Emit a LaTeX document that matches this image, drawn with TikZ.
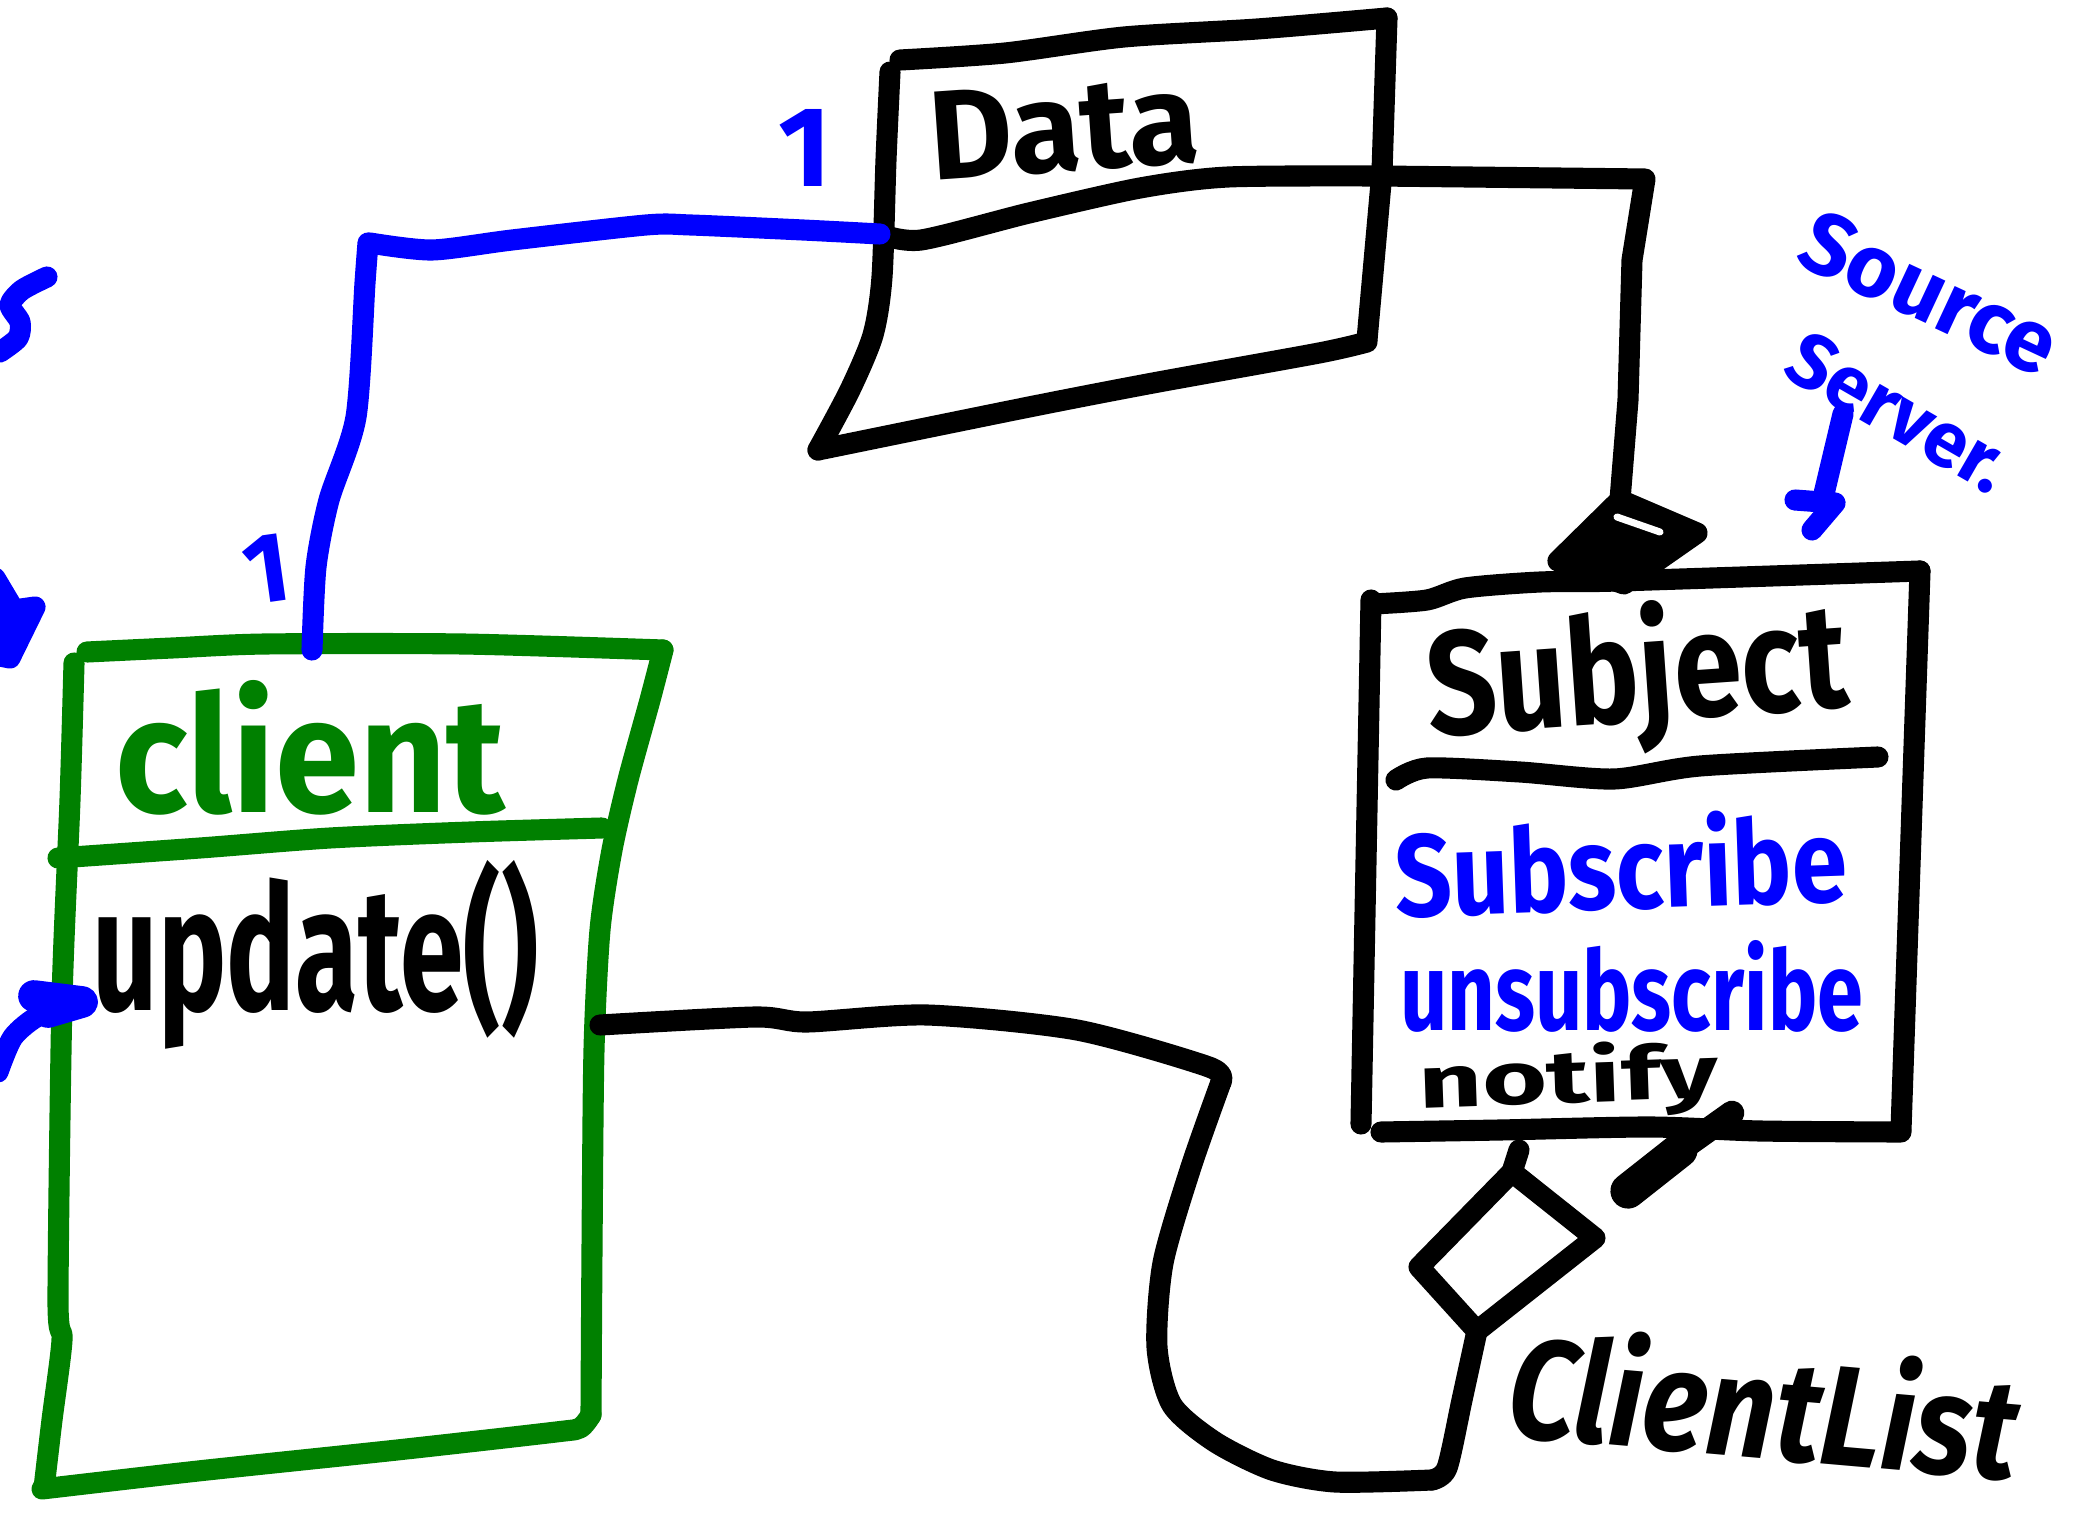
\documentclass[tikz,border=0pt]{standalone}
\usepackage{fontspec}
\setmainfont{Fira Sans}
\definecolor{umlgreen}{RGB}{0,128,0}
\definecolor{umlblue}{RGB}{0,0,255}
\begin{document}
\begin{tikzpicture}[x=0.01cm, y=-0.01cm,
  stroke/.style={line width=6pt, line cap=round, line join=round},
  pen/.style={stroke, draw=black},
  gpen/.style={stroke, draw=umlgreen},
  bpen/.style={stroke, draw=umlblue},
  hand/.style={inner sep=0pt, outer sep=0pt, anchor=base west, font=\bfseries},
  mult/.style={inner sep=0pt, outer sep=0pt, anchor=base, text=umlblue, font=\bfseries},
  handline/.style={smooth, tension=0.45}]

% canvas
\fill[white] (0,0) rectangle (2074,1518);
\useasboundingbox (0,0) rectangle (2074,1518);
\clip (0,0) rectangle (2074,1518);

% ---------- anchor points used by the connectors ----------
\coordinate (dataDivL) at (880,234);
\coordinate (dataDivR) at (1380,176);
\coordinate (clientTop) at (312,650);
\coordinate (clientR)  at (600,1025);
\coordinate (compTop)  at (1620,500);
\coordinate (aggTop)   at (1512,1172);
\coordinate (aggBot)   at (1477,1331);
\coordinate (subjBot)  at (1519,1150);

% ---------- Data class ----------
\draw[pen] plot[handline] coordinates {(900,60) (1005,53) (1124,37) (1257,29) (1387,18)};
\draw[pen] (1387,18) -- (1382,172) -- (1367,340);
\draw[pen] plot[handline] coordinates {(1367,342) (1319,353) (1153,383) (1029,407) (818,450)};
\draw[pen] plot[handline] coordinates {(890,72) (886,160) (882,277) (873,335) (850,390) (818,450)};
\draw[pen] plot[handline] coordinates {(dataDivL) (921,240) (1029,213) (1140,188) (1228,177) (dataDivR)};
\node[hand, rotate=4] (datatxt) at (932,180) {\resizebox{2.7cm}{0.88cm}{Data}};

% ---------- Subject class ----------
\draw[pen] plot[handline] coordinates {(1373,604) (1427,600) (1465,588) (1540,582) (1618,581) (1920,571)};
\draw[pen] (1920,571) -- (1901,1130);
\draw[pen] plot[handline] coordinates {(1381,1132) (1500,1130) (1650,1127) (1760,1131) (1901,1132)};
\draw[pen] (1371,600) -- (1361,1124);
\draw[pen] plot[handline] coordinates {(1396,780) (1427,768) (1520,772) (1614,779) (1700,766) (1878,757)};
\node[hand, rotate=4] (subjtxt) at (1430,736) {\resizebox{4.21cm}{1.2cm}{Subject}};
\node[hand, rotate=2, text=umlblue] (subtxt) at (1396,917) {\resizebox{4.52cm}{0.95cm}{Subscribe}};
\node[hand, text=umlblue] (unsubtxt) at (1400,1030) {\resizebox{4.63cm}{0.9cm}{unsubscribe}};
\node[hand, rotate=2] (notifytxt) at (1419,1108) {\resizebox{3.0cm}{0.6cm}{notify}};
\draw[pen, line width=7pt] (1732,1113) -- (1680,1150);
\draw[pen, line width=10pt] (1680,1150) -- (1628,1191);

% ---------- Client class ----------
\draw[gpen] plot[handline] coordinates {(87,652) (172,648) (265,644) (463,644) (663,650)};
\draw[gpen] plot[handline] coordinates {(663,650) (650,700) (628,780) (612,850) (600,930) (594,1050) (592,1250) (591,1415)};
\draw[gpen] plot[handline] coordinates {(591,1415) (580,1428) (556,1432) (397,1450) (198,1471) (42,1489)};
\draw[gpen] plot[handline] coordinates {(74,663) (70,800) (62,1000) (58,1300) (62,1340) (52,1420) (44,1488)};
\draw[gpen] plot[handline] coordinates {(58,858) (200,848) (330,838) (470,832) (602,828)};
\node[hand, text=umlgreen] (clienttxt) at (115,812) {\resizebox{3.9cm}{1.32cm}{client}};
\node[hand] (updatetxt) at (93,1010) {\resizebox{4.45cm}{1.5cm}{update()}};

% ---------- Data -> Subject (composition) ----------
\draw[pen] (dataDivR) -- (1645,179) -- (1632,260) -- (1628,400) -- (compTop);
\filldraw[pen, fill=black] (compTop) -- (1697,533) -- (1624,584) -- (1558,561) -- cycle;
\draw[white, line width=2pt, line cap=round] (1617,517) -- (1660,532);

% ---------- Client list (aggregation) ----------
\draw[pen] (subjBot) -- (aggTop);
\draw[pen] (aggTop) -- (1595,1238) -- (aggBot) -- (1419,1267) -- cycle;
\draw[pen] plot[handline] coordinates {(clientR) (755,1017) (807,1022) (927,1015) (1077,1030) (1209,1067) (1221,1082)};
\draw[pen] plot[handline] coordinates {(1221,1082) (1191,1167) (1163,1263) (1157,1347) (1172,1405) (1215,1442) (1272,1470) (1335,1482) (1432,1480)};
\draw[pen] plot[handline] coordinates {(1432,1480) (1447,1468) (1462,1400) (aggBot)};
\node[hand, rotate=-5] (listtxt) at (1505,1436) {\resizebox{5.1cm}{1.15cm}{\itshape ClientList}};

% ---------- Client -> Data association ----------
\draw[bpen] plot[handline] coordinates {(dataDivL) (803,230) (691,225) (646,225) (512,240) (432,250) (370,243)};
\draw[bpen] plot[handline] coordinates {(368,243) (365,283) (356,417) (329,500) (316,567) (clientTop)};
\node[mult] (multdata) at (805,186) {\resizebox{!}{0.77cm}{1}};
\node[mult, rotate=8] (multclient) at (271,602) {\resizebox{!}{0.67cm}{1}};

% ---------- notes on the right ----------
\node[hand, rotate=-25, text=umlblue] (srctxt) at (1793,262) {\fontsize{25}{25}\selectfont Source};
\node[hand, rotate=-30, text=umlblue] (srvtxt) at (1780,374) {\fontsize{22}{22}\selectfont Server.};
\coordinate (noteTop) at (1843,414);
\coordinate (noteTip) at (1823,498);
\draw[bpen] (noteTop) -- (noteTip);
\draw[bpen] (1795,500) -- (1835,503) -- (1812,530);

% ---------- strokes at the left edge ----------
\draw[bpen] plot[handline] coordinates {(47,277) (22,290) (10,305) (20,322) (18,338) (0,352)};
\coordinate (edgeArrow) at (14,610);
\draw[bpen] (-5,578) -- (edgeArrow);
\filldraw[bpen, fill=umlblue] (0,612) -- (35,607) -- (10,658) -- (0,656) -- cycle;
\coordinate (updIn) at (82,1002);
\draw[bpen] plot[handline] coordinates {(-2,1072) (13,1037) (40,1015) (updIn)};
\draw[bpen, line width=9pt] (34,996) -- (updIn) -- (48,1012);
\end{tikzpicture}
\end{document}
